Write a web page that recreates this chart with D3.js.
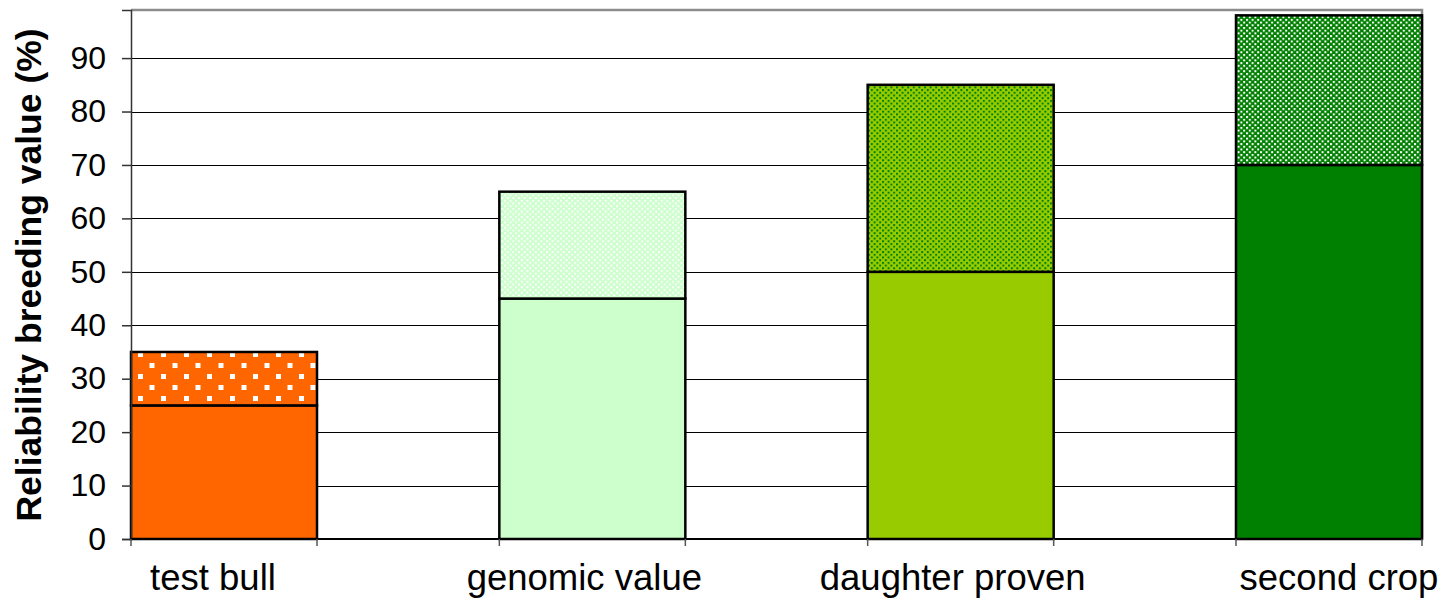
<!DOCTYPE html>
<html>
<head>
<meta charset="utf-8">
<script src="https://cdn.jsdelivr.net/npm/d3@7"></script>
<style>
  html, body { margin: 0; padding: 0; background: #fff; }
  svg { display: block; }
  text { font-family: "Liberation Sans", Arial, sans-serif; fill: #000; }
</style>
</head>
<body>
<svg id="chart" width="1445" height="600"></svg>
<script>
// ---- data ----
const categories = ["test bull", "genomic value", "daughter proven", "second crop"];
const baseValues = [25, 45, 50, 70];       // lower (solid) segment
const extraValues = [10, 20, 35, 28];      // upper (patterned) segment
const yTicks = [0, 10, 20, 30, 40, 50, 60, 70, 80, 90];
const yTitle = "Reliability breeding value (%)";
const baseColors = ["#FF6600", "#CCFFCC", "#99CC00", "#008000"];
const labelShift = [-11, -8, -8, 10];      // label nudges (px) as in the original

const W = 1445, H = 600;
const margin = { left: 131, right: 23, top: 10, bottom: 61 };
const svg = d3.select("#chart");

const x = d3.scaleBand().domain(categories)
  .range([margin.left, W - margin.right])
  .paddingInner(0.495).paddingOuter(0);
const y = d3.scaleLinear().domain([0, 99]).range([H - margin.bottom, margin.top]);

// ---- patterns ----
const defs = svg.append("defs");
function dotPattern(id, bg, fg, w, h, s) {
  const p = defs.append("pattern").attr("id", id)
    .attr("patternUnits", "userSpaceOnUse").attr("width", w).attr("height", h);
  p.append("rect").attr("width", w).attr("height", h).attr("fill", bg);
  p.append("rect").attr("x", 0).attr("y", 0).attr("width", s).attr("height", s).attr("fill", fg);
  p.append("rect").attr("x", w / 2).attr("y", h / 2).attr("width", s).attr("height", s).attr("fill", fg);
}
dotPattern("p0", "#FF6600", "#FFFFFF", 23, 22, 5);
dotPattern("p1", "#CCFFCC", "#FFFFFF", 5.6, 5.4, 2);
dotPattern("p2", "#99CC00", "#008000", 5.6, 5.4, 2);
dotPattern("p3", "#008000", "#FFFFFF", 5.6, 5.4, 2);

const x0 = margin.left, x1 = W - margin.right;

// gridlines
svg.append("g").selectAll("line").data(yTicks.filter(d => d > 0)).join("line")
  .attr("x1", x0).attr("x2", x1)
  .attr("y1", d => Math.round(y(d)) + 0.5).attr("y2", d => Math.round(y(d)) + 0.5)
  .attr("stroke", "#000").attr("stroke-width", 1);

// plot border (top/right)
svg.append("path")
  .attr("d", `M${x0},${y(99)}H${x1}V${y(0)}`)
  .attr("fill", "none").attr("stroke", "#8c8c8c").attr("stroke-width", 2.5);

// bars
const data = categories.map((c, i) => ({ c, i, b: baseValues[i], e: extraValues[i] }));
const bars = svg.append("g");
bars.selectAll("rect.base").data(data).join("rect").attr("class", "base")
  .attr("x", d => x(d.c)).attr("width", x.bandwidth())
  .attr("y", d => y(d.b)).attr("height", d => y(0) - y(d.b))
  .attr("fill", d => baseColors[d.i]).attr("stroke", "#000").attr("stroke-width", 2.5);
bars.selectAll("rect.extra").data(data).join("rect").attr("class", "extra")
  .attr("x", d => x(d.c)).attr("width", x.bandwidth())
  .attr("y", d => y(d.b + d.e)).attr("height", d => y(d.b) - y(d.b + d.e))
  .attr("fill", d => `url(#p${d.i})`).attr("stroke", "#000").attr("stroke-width", 2.5);

// y axis
const yAxis = svg.append("g").attr("transform", `translate(${x0},0)`)
  .call(d3.axisLeft(y).tickValues(yTicks).tickSize(9).tickPadding(16));
yAxis.select(".domain").attr("stroke", "#333").attr("stroke-width", 1.5);
yAxis.selectAll(".tick line").attr("stroke", "#333").attr("stroke-width", 1.5);
yAxis.selectAll(".tick text").attr("font-size", 32).attr("font-family", "Liberation Sans, Arial, sans-serif").attr("fill", "#000");

// x axis line + ticks at bar edges
svg.append("line").attr("x1", x0).attr("x2", x1).attr("y1", y(0)).attr("y2", y(0))
  .attr("stroke", "#000").attr("stroke-width", 2);
const edges = data.flatMap(d => [x(d.c), x(d.c) + x.bandwidth()]);
svg.append("g").selectAll("line").data(edges).join("line")
  .attr("x1", d => d).attr("x2", d => d).attr("y1", y(0)).attr("y2", y(0) + 7)
  .attr("stroke", "#555").attr("stroke-width", 1.5);

// x labels
svg.append("g").selectAll("text").data(data).join("text")
  .attr("x", d => x(d.c) + x.bandwidth() / 2 + labelShift[d.i])
  .attr("y", 590).attr("text-anchor", "middle").attr("font-size", 36.5)
  .text(d => d.c);

// y title
svg.append("text").attr("transform", "translate(41,275) rotate(-90)")
  .attr("text-anchor", "middle").attr("font-size", 35.5).attr("font-weight", "bold")
  .text(yTitle);
</script>
</body>
</html>
